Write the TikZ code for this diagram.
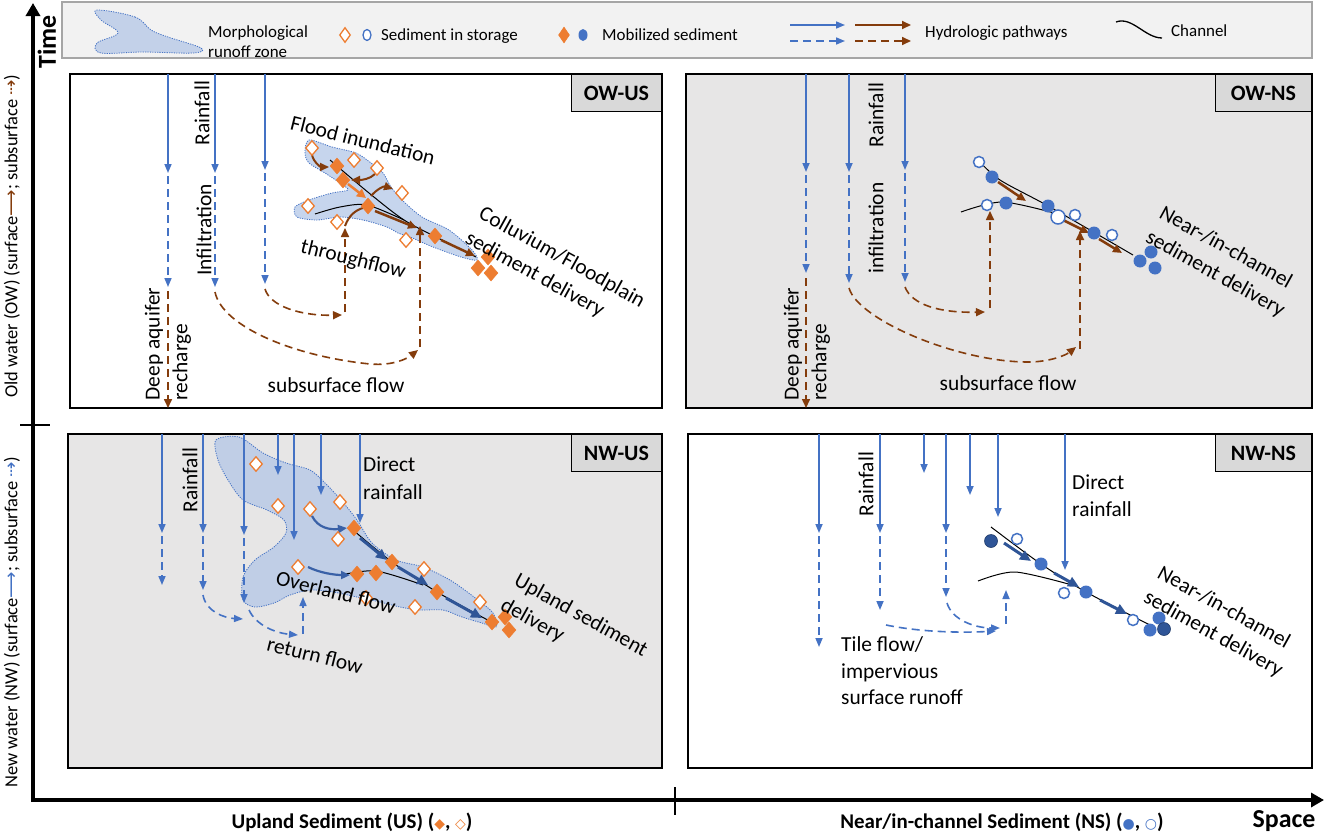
\documentclass[tikz,border=0pt]{standalone}
\usepackage{fontspec}
\setmainfont{Carlito}
\newfontfamily\dejavu{DejaVu Sans}
\usetikzlibrary{arrows.meta,shapes.geometric}
\definecolor{cblue}{HTML}{4472C4}
\definecolor{cnavy}{HTML}{2F5597}
\definecolor{cbrown}{HTML}{843C0C}
\definecolor{corange}{HTML}{ED7D31}
\definecolor{zfill}{HTML}{B4C7E7}
\definecolor{pgray}{HTML}{E7E6E6}
\definecolor{tagfill}{HTML}{D9D9D9}
\definecolor{legfill}{HTML}{F2F2F2}
\definecolor{legdraw}{HTML}{A6A6A6}
\begin{document}
\begin{tikzpicture}[x=1bp,y=-1bp,
  every node/.style={inner sep=0pt},
  panel/.style={draw=black, line width=1.5bp},
  lbl/.style={font=\fontsize{21.5}{28}\selectfont, align=left},
  tag/.style={draw=black, fill=tagfill, line width=1.2bp, font=\bfseries\fontsize{22}{26}\selectfont, anchor=north east, minimum height=37bp},
  bsolid/.style={draw=cblue, line width=1.6bp, -{Triangle[width=7bp,length=9bp]}},
  bdash/.style={bsolid, dash pattern=on 8bp off 5bp},
  rdash/.style={draw=cbrown, line width=1.6bp, dash pattern=on 8bp off 5bp, -{Triangle[width=8bp,length=9bp]}},
  rsolid/.style={draw=cbrown, line width=2.5bp, -{Triangle[width=8bp,length=9bp]}},
  osolid/.style={draw=corange, line width=2.5bp, -{Triangle[width=9bp,length=9bp]}},
  msolid/.style={draw=cblue!85!black, line width=2.2bp, -{Triangle[width=8bp,length=9bp]}},
  nsolid/.style={draw=cnavy, line width=3bp, -{Triangle[width=10bp,length=11bp]}},
  odia/.style={diamond, draw=corange, fill=white, line width=1.3bp, minimum width=13bp, minimum height=15bp},
  fdia/.style={diamond, fill=corange, draw=corange, line width=0.5bp, minimum width=14bp, minimum height=16bp},
  ocirc/.style={circle, draw=cblue, fill=white, line width=1.5bp, minimum size=11bp},
  fcirc/.style={circle, fill=cblue, minimum size=13bp},
  dcirc/.style={circle, fill=cnavy, draw=cnavy!70!black, line width=0.6bp, minimum size=13bp},
  zone/.style={fill=zfill, fill opacity=0.75, draw=cblue, draw opacity=1, dash pattern=on 1.2bp off 1.2bp, line width=0.8bp},
  chan/.style={draw=black, line width=1bp},
  axis/.style={draw=black, line width=4bp, line join=miter}
]
\useasboundingbox (0,0) rectangle (1325,836);

% ---------------- legend ----------------
\draw[draw=legdraw, fill=legfill, line width=1.5bp] (62,2) rectangle (1312,58);
\draw[zone] plot[smooth cycle, tension=0.6] coordinates {(97,10) (135,17) (151,30) (168,37) (201,48) (193,53) (143,52) (101,53) (97,43) (118,33) (101,20)};
\node[font=\fontsize{17}{20}\selectfont, align=left, anchor=west] (lg-zone) at (208,42) {Morphological\\runoff zone};
\node[odia, minimum width=11bp, minimum height=15bp] (lg-od) at (345,35) {};
\node[ellipse, draw=cblue, line width=1.3bp, fill=white, minimum width=8bp, minimum height=11bp] (lg-oc) at (367,35) {};
\node[font=\fontsize{17}{20}\selectfont, anchor=west] (lg-stor) at (381,36) {Sediment in storage};
\node[fdia, minimum width=11bp, minimum height=16bp] (lg-fd) at (564,35) {};
\node[ellipse, fill=cblue, minimum width=9bp, minimum height=12bp] (lg-fc) at (583,35) {};
\node[font=\fontsize{17}{20}\selectfont, anchor=west] (lg-mob) at (602,35) {Mobilized sediment};
\draw[bsolid] (790,25) -- (845,25);
\draw[rsolid, line width=1.8bp] (855,25) -- (911,25);
\draw[bdash] (790,41) -- (845,41);
\draw[rdash] (855,41) -- (911,41);
\node[font=\fontsize{17}{20}\selectfont, anchor=west] (lg-hyd) at (925,33) {Hydrologic pathways};
\draw[chan, line width=1.3bp] (1116,22) .. controls (1132,16) and (1145,38) .. (1162,38);
\node[font=\fontsize{17}{20}\selectfont, anchor=west] (lg-chan) at (1171,31) {Channel};

% ---------------- panels ----------------
\draw[panel, fill=white] (70,74) rectangle (662,408);
\draw[panel, fill=pgray] (686,74) rectangle (1312,408);
\draw[panel, fill=pgray] (68,434) rectangle (662,768);
\draw[panel, fill=white] (688,434) rectangle (1312,768);
\node[tag, minimum width=90bp] (tag-owus) at (662,74) {OW-US};
\node[tag, minimum width=96bp] (tag-owns) at (1312,74) {OW-NS};
\node[tag, minimum width=90bp] (tag-nwus) at (662,434) {NW-US};
\node[tag, minimum width=96bp] (tag-nwns) at (1312,434) {NW-NS};

% ================= OW-US =================
\draw[zone] plot[smooth cycle, tension=0.5] coordinates {(309,140) (332,147) (356,153) (371,163) (383,173) (391,187) (402,200) (422,217) (449,230) (472,250) (477,260) (461,257) (433,247) (410,237) (398,233) (387,227) (363,220) (340,217) (317,220) (297,217) (295,207) (309,200) (332,193) (348,190) (340,183) (325,173) (309,163) (305,153)};
\draw[chan] plot[smooth] coordinates {(330,160) (369,193) (404,220) (440,239) (476,257)};
\draw[chan] plot[smooth] coordinates {(315,214) (340,207) (367,205) (404,220)};

\draw[bsolid] (168,74) -- (168,173);
\draw[bdash] (168,176) -- (168,287);
\draw[rdash] (168,291) -- (168,408);
\draw[bsolid] (215,74) -- (215,173);
\draw[bdash] (215,176) -- (215,287);
\draw[rdash] (215,292) .. controls (222,326) and (292,356) .. (370,364) .. controls (394,366) and (408,358) .. (418,350);
\draw[rdash] (420,347) -- (420,226);
\draw[bsolid] (265,74) -- (265,170);
\draw[bdash] (265,173) -- (265,284);
\draw[rdash] (265,289) .. controls (270,306) and (300,316) .. (342,315);
\draw[rdash] (345,312) -- (345,228);
\draw[draw=cbrown, line width=2bp] (345,226) .. controls (349,215) and (356,210) .. (363,208);

\draw[rsolid, line width=2bp] (312,155) .. controls (314,163) and (321,167) .. (329,167);
\draw[rsolid, line width=2bp] (375,174) .. controls (370,179) and (362,180) .. (351,180);
\draw[rsolid, line width=2bp] (371,196) .. controls (377,189) and (384,186) .. (393,189);
\draw[osolid] (348,184) -- (366,198);
\draw[rsolid] (375,211) -- (417,228);
\draw[rsolid] (441,240) -- (475,256);

\foreach \x/\y [count=\i] in {312/148, 354/160, 377/168, 402/193, 308/206, 337/222, 406/240}
  \node[odia] (owus-o\i) at (\x,\y) {};
\foreach \x/\y [count=\i] in {337/166, 343/180, 368/206, 435/236, 488/257, 478/268, 491/273}
  \node[fdia] (owus-f\i) at (\x,\y) {};

\node[lbl, rotate=90] (owus-rain) at (202,113) {Rainfall};
\node[lbl, rotate=90] (owus-inf) at (204,230) {Infiltration};
\node[lbl, rotate=90] (owus-deep) at (168,344) {Deep aquifer\\recharge};
\node[lbl, rotate=-14] (owus-flood) at (363,140) {Flood inundation};
\node[lbl, rotate=-14] (owus-through) at (353,260) {throughflow};
\node[lbl, rotate=-29] (owus-coll) at (555,270) {Colluvium/Floodplain\\sediment delivery};
\node[lbl] (owus-sub) at (336,385) {subsurface flow};

% ================= OW-NS =================
\draw[chan] plot[smooth] coordinates {(978,160) (1000,180) (1050,207) (1133,255)};
\draw[chan] plot[smooth] coordinates {(961,212) (1002,202) (1054,213)};

\draw[bsolid] (806,74) -- (806,172);
\draw[bdash] (806,175) -- (806,273);
\draw[rdash] (806,278) -- (806,408);
\draw[bsolid] (849,74) -- (849,172);
\draw[bdash] (849,175) -- (849,283);
\draw[rdash] (849,288) .. controls (858,320) and (958,362) .. (1028,362) .. controls (1050,362) and (1066,355) .. (1076,347);
\draw[rdash] (1080,349) -- (1080,231);
\draw[bsolid] (905,74) -- (905,170);
\draw[bdash] (905,173) -- (905,282);
\draw[rdash] (905,287) .. controls (912,305) and (940,313) .. (985,312);
\draw[rdash] (990,308) -- (990,211);

\draw[rsolid] (998,182) -- (1026,201);
\draw[rsolid] (1063,220) -- (1089,233);
\draw[rsolid] (1099,239) -- (1122,253);

\foreach \x/\y [count=\i] in {979/162, 987/205, 1075/215, 1112/235}
  \node[ocirc] (owns-o\i) at (\x,\y) {};
\node[ocirc, minimum size=14bp] (owns-o5) at (1058,217) {};
\foreach \x/\y [count=\i] in {992/177, 1006/203, 1048/206, 1094/233, 1151/252, 1140/261, 1155/268}
  \node[fcirc] (owns-f\i) at (\x,\y) {};

\node[lbl, rotate=90] (owns-rain) at (876,115) {Rainfall};
\node[lbl, rotate=90] (owns-inf) at (876,228) {infiltration};
\node[lbl, rotate=90] (owns-deep) at (807,344) {Deep aquifer\\recharge};
\node[lbl, rotate=-29] (owns-near) at (1222,262) {Near-/in-channel\\sediment delivery};
\node[lbl] (owns-sub) at (1008,383) {subsurface flow};

% ================= NW-US =================
\draw[zone] plot[smooth cycle, tension=0.5] coordinates {(216,440) (239,437) (263,453) (286,463) (310,470) (325,483) (341,500) (357,520) (372,543) (396,560) (423,567) (450,580) (474,597) (493,613) (496,627) (482,623) (462,617) (443,610) (419,610) (400,607) (380,602) (357,597) (333,592) (310,590) (290,595) (274,603) (255,607) (243,600) (243,577) (255,560) (274,547) (286,533) (284,520) (267,510) (243,500) (228,480) (218,460)};
\draw[chan] plot[smooth] coordinates {(353,530) (392,562) (437,592) (497,625)};
\draw[chan] plot[smooth] coordinates {(341,575) (376,571) (423,585)};

\draw[bsolid] (162,434) -- (162,533);
\draw[bdash] (162,536) -- (162,585);
\draw[bsolid] (203,434) -- (203,533);
\draw[bdash] (203,536) -- (203,590);
\draw[bdash] (203,595) .. controls (206,612) and (225,618) .. (243,619);
\draw[bsolid] (244,434) -- (244,535);
\draw[bdash] (244,538) -- (244,603);
\draw[bdash] (249,610) .. controls (256,625) and (275,633) .. (298,635);
\draw[bdash] (303,634) -- (303,597);
\draw[bsolid] (278,434) -- (278,475);
\draw[bsolid] (294,434) -- (294,540);
\draw[bsolid] (321,434) -- (321,495);
\draw[bsolid] (360,434) -- (360,523);

\draw[msolid] (312,516) .. controls (318,528) and (330,530) .. (347,528);
\draw[msolid] (308,567) .. controls (320,573) and (335,575) .. (350,575);
\draw[nsolid] (360,538) -- (387,560);
\draw[nsolid] (398,567) -- (428,585);
\draw[nsolid] (446,598) -- (482,618);

\foreach \x/\y [count=\i] in {256/464, 278/506, 310/509, 340/502, 338/539, 298/567, 424/569, 415/607, 480/602, 366/598}
  \node[odia] (nwus-o\i) at (\x,\y) {};
\foreach \x/\y [count=\i] in {354/528, 392/562, 357/574, 376/573, 437/592, 492/622, 505/617, 509/630}
  \node[fdia] (nwus-f\i) at (\x,\y) {};

\node[lbl, rotate=90] (nwus-rain) at (190,480) {Rainfall};
\node[lbl, anchor=west] (nwus-direct) at (363,478) {Direct\\rainfall};
\node[lbl, rotate=-14] (nwus-over) at (336,592) {Overland flow};
\node[lbl, rotate=-14] (nwus-return) at (315,655) {return flow};
\node[lbl, rotate=-29] (nwus-upl) at (574,628) {Upland sediment\\delivery};

% ================= NW-NS =================
\draw[chan] plot[smooth] coordinates {(991,527) (1041,564) (1086,592) (1150,625)};
\draw[chan] plot[smooth] coordinates {(978,581) (1015,572) (1072,585)};

\draw[bsolid] (819,434) -- (819,533);
\draw[bdash] (819,536) -- (819,647);
\draw[bsolid] (880,434) -- (880,533);
\draw[bdash] (880,536) -- (880,610);
\draw[bdash] (886,625) .. controls (920,632) and (960,633) .. (996,631);
\draw[bsolid] (946,434) -- (946,533);
\draw[bdash] (946,536) -- (946,597);
\draw[bdash] (947,603) .. controls (952,620) and (975,628) .. (1000,628);
\draw[bdash] (1006,624) -- (1006,590);
\draw[bsolid] (924,434) -- (924,473);
\draw[bsolid] (970,434) -- (970,495);
\draw[bsolid] (998,434) -- (998,517);
\draw[bsolid] (1065,434) -- (1065,570);

\draw[nsolid] (1004,543) -- (1031,561);
\draw[nsolid] (1054,573) -- (1079,587);
\draw[nsolid] (1100,600) -- (1127,614);

\node[dcirc] (nwns-d1) at (991,541) {};
\node[ocirc] (nwns-o1) at (1017,539) {};
\node[fcirc] (nwns-f1) at (1041,564) {};
\node[ocirc] (nwns-o2) at (1064,593) {};
\node[fcirc] (nwns-f2) at (1086,592) {};
\node[ocirc] (nwns-o3) at (1133,620) {};
\node[fcirc] (nwns-f3) at (1159,618) {};
\node[fcirc] (nwns-f4) at (1150,630) {};
\node[dcirc] (nwns-d2) at (1164,629) {};

\node[lbl, rotate=90] (nwns-rain) at (866,484) {Rainfall};
\node[lbl, anchor=west, font=\fontsize{21.5}{27}\selectfont] (nwns-direct) at (1072,496) {Direct\\rainfall};
\node[lbl, anchor=west, font=\fontsize{21.5}{26.5}\selectfont] (nwns-tile) at (841,671) {Tile flow/\\impervious\\surface runoff};
\node[lbl, rotate=-29] (nwns-near) at (1220,622) {Near-/in-channel\\sediment delivery};

% ---------------- axes ----------------
\draw[axis, {Triangle[width=14bp,length=13bp]}-{Triangle[width=14bp,length=13bp]}] (33,3) -- (33,800) -- (1324,800);
\draw[line width=2.5bp] (20,425) -- (50,425);
\draw[line width=2.5bp] (675,787) -- (675,815);
\node[font=\bfseries\fontsize{26}{30}\selectfont, rotate=90] (time) at (47,42) {Time};
\node[font=\bfseries\fontsize{26}{30}\selectfont] (space) at (1284,821) {Space};
\node[font=\bfseries\fontsize{21}{24}\selectfont] (uslbl) at (352,822) {Upland Sediment (US) ({\dejavu\fontsize{14}{14}\selectfont\color{corange}◆}, {\dejavu\fontsize{14}{14}\selectfont\color{corange}◇})};
\node[font=\bfseries\fontsize{21}{24}\selectfont] (nslbl) at (1002,822) {Near/in-channel Sediment (NS) ({\dejavu\fontsize{14}{14}\selectfont\color{cblue}●}, {\dejavu\fontsize{14}{14}\selectfont\color{cblue}○})};
\node[font=\fontsize{18.5}{21}\selectfont, rotate=90] (owlbl) at (12,236) {Old water (OW) (surface{\dejavu\color{cbrown}⟶}; subsurface {\dejavu\color{cbrown}⇢})};
\node[font=\fontsize{18.5}{21}\selectfont, rotate=90] (nwlbl) at (12,622) {New water (NW) (surface{\dejavu\color{cblue}⟶}; subsurface {\dejavu\color{cblue}⇢})};
\end{tikzpicture}
\end{document}
